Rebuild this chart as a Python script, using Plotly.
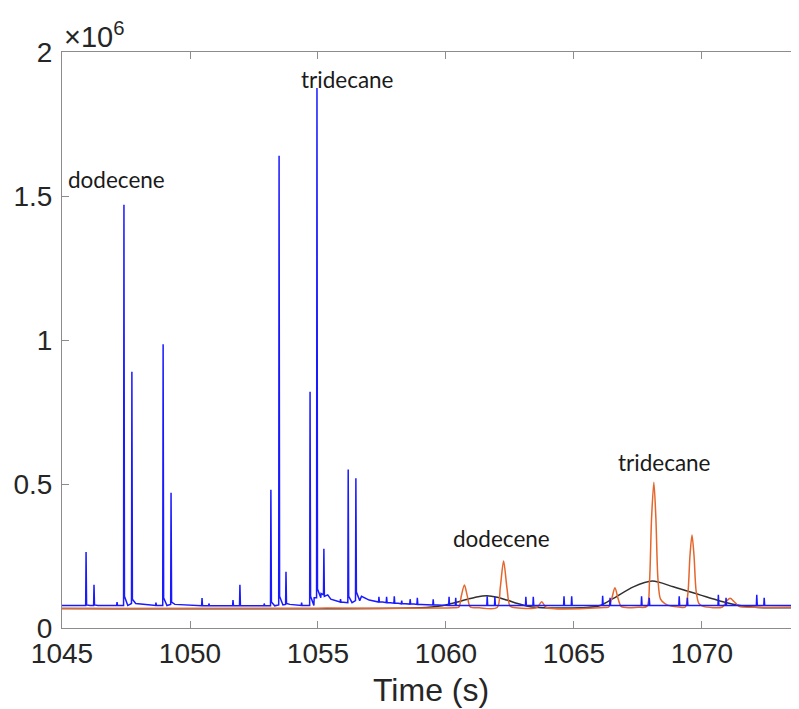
import plotly.graph_objects as go

# ---- data (intensity in units of 1e6) ----
# blue trace: sharp spikes  (time, apex, local baseline, level just after apex)
blue_spike_t = [1045.94, 1046.25, 1047.15, 1047.42, 1047.73, 1048.67, 1048.95, 1049.26,
                1050.47, 1050.74, 1051.68, 1051.95, 1052.90, 1053.16, 1053.48, 1053.75,
                1054.36, 1054.69, 1054.96, 1055.23, 1055.88, 1056.18, 1056.48,
                1057.38, 1057.68, 1057.98, 1058.27, 1058.60, 1058.88, 1059.50,
                1060.12, 1060.38, 1061.61, 1061.91, 1063.12, 1063.41, 1064.61, 1064.91,
                1066.12, 1066.41, 1067.64, 1067.94, 1069.11, 1069.43, 1070.64, 1070.94,
                1072.14, 1072.43, 1073.67]
blue_spike_h = [0.264, 0.150, 0.090, 1.470, 0.890, 0.088, 0.985, 0.470,
                0.104, 0.085, 0.097, 0.150, 0.085, 0.480, 1.640, 0.195,
                0.088, 0.820, 1.875, 0.275, 0.100, 0.550, 0.520,
                0.108, 0.108, 0.110, 0.095, 0.100, 0.105, 0.100,
                0.108, 0.105, 0.110, 0.108, 0.108, 0.108, 0.110, 0.110,
                0.112, 0.105, 0.110, 0.105, 0.110, 0.105, 0.115, 0.105,
                0.115, 0.105, 0.110]
blue_spike_base = [0.078, 0.078, 0.078, 0.078, 0.085, 0.078, 0.078, 0.082,
                   0.077, 0.077, 0.077, 0.077, 0.077, 0.077, 0.080, 0.082,
                   0.078, 0.078, 0.105, 0.115, 0.090, 0.088, 0.095,
                   0.090, 0.088, 0.086, 0.084, 0.083, 0.082, 0.080,
                   0.078, 0.078, 0.078, 0.078, 0.078, 0.078, 0.078, 0.078,
                   0.078, 0.078, 0.078, 0.078, 0.078, 0.078, 0.078, 0.078,
                   0.078, 0.078, 0.078]
blue_spike_tail = [0.080, 0.080, 0.078, 0.110, 0.100, 0.078, 0.105, 0.090,
                   0.077, 0.077, 0.077, 0.078, 0.077, 0.090, 0.110, 0.085,
                   0.078, 0.110, 0.135, 0.110, 0.090, 0.110, 0.125,
                   0.090, 0.088, 0.086, 0.084, 0.083, 0.082, 0.080,
                   0.078, 0.078, 0.078, 0.078, 0.078, 0.078, 0.078, 0.078,
                   0.078, 0.078, 0.078, 0.078, 0.078, 0.078, 0.078, 0.078,
                   0.078, 0.078, 0.078]
blue_base_t = [1045.0, 1054.85, 1055.12, 1055.50, 1056.00, 1056.70, 1057.00, 1058.20, 1059.80, 1073.8]
blue_base_y = [0.078, 0.105, 0.120, 0.100, 0.090, 0.110, 0.097, 0.085, 0.080, 0.078]

# orange trace
orange_t = [1045.0, 1055.0, 1060.30, 1060.50, 1060.60, 1060.72, 1060.84, 1060.95, 1061.3,
            1062.00, 1062.12, 1062.25, 1062.38, 1062.50, 1062.65,
            1063.55, 1063.74, 1063.92, 1066.20,
            1066.35, 1066.47, 1066.60, 1066.73, 1066.85, 1067.5,
            1067.85, 1067.95, 1068.03, 1068.12, 1068.20, 1068.28, 1068.38, 1068.55, 1068.80, 1069.10,
            1069.35, 1069.45, 1069.53, 1069.61, 1069.69, 1069.77, 1069.88, 1070.05,
            1070.80, 1070.95, 1071.10, 1071.25, 1071.45, 1072.0, 1073.8]
orange_y = [0.068, 0.069, 0.070, 0.072, 0.112, 0.149, 0.108, 0.073, 0.070,
            0.071, 0.140, 0.233, 0.140, 0.076, 0.071,
            0.071, 0.091, 0.071, 0.071,
            0.072, 0.100, 0.140, 0.100, 0.074, 0.072,
            0.075, 0.160, 0.380, 0.506, 0.380, 0.170, 0.100, 0.085, 0.076, 0.073,
            0.073, 0.120, 0.250, 0.323, 0.250, 0.130, 0.085, 0.075,
            0.073, 0.092, 0.103, 0.092, 0.075, 0.072, 0.072]

# black trace
black_t = [1045.0, 1059.0, 1059.77, 1060.3, 1060.8, 1061.2, 1061.6, 1062.0, 1062.38, 1062.8,
           1063.15, 1063.6, 1065.5, 1066.02, 1066.54, 1067.32, 1068.06, 1068.88, 1069.92,
           1070.7, 1071.6, 1072.2, 1073.8]
black_y = [0.068, 0.070, 0.076, 0.087, 0.099, 0.108, 0.112, 0.107, 0.097, 0.085,
           0.076, 0.071, 0.071, 0.078, 0.103, 0.143, 0.163, 0.143, 0.115,
           0.094, 0.076, 0.071, 0.070]

x_ticks = [1045, 1050, 1055, 1060, 1065, 1070]
y_ticks = [0, 0.5, 1, 1.5, 2]
y_ticktext = ["0", "0.5", "1", "1.5", "2"]

labels = ["dodecene", "tridecane", "dodecene", "tridecane"]
label_x = [1047.11, 1056.17, 1062.15, 1068.55]
label_y = [1.556, 1.906, 0.312, 0.576]

# ---- build blue vertex list from spikes + baseline knots ----
pts = list(zip(blue_base_t, blue_base_y))
for t, h, b, tl in zip(blue_spike_t, blue_spike_h, blue_spike_base, blue_spike_tail):
    pts += [(t - 0.015, b), (t, h), (t + 0.02, tl), (t + 0.15, b)]
pts.sort(key=lambda p: p[0])
blue_x = [p[0] for p in pts]
blue_y = [p[1] for p in pts]

fig = go.Figure()
fig.add_trace(go.Scatter(x=black_t, y=black_y, mode="lines",
                         line=dict(color="#303030", width=1.5, shape="spline", smoothing=0.8)))
fig.add_trace(go.Scatter(x=orange_t, y=orange_y, mode="lines",
                         line=dict(color="#e5662c", width=1.5, shape="spline", smoothing=0.8)))
fig.add_trace(go.Scatter(x=blue_x, y=blue_y, mode="lines",
                         line=dict(color="#1a1aff", width=1.5)))

for txt, lx, ly in zip(labels, label_x, label_y):
    fig.add_annotation(x=lx, y=ly, text=txt, showarrow=False, xanchor="center", yanchor="middle",
                       font=dict(family="Lato", size=22.5, color="#1a1a1a"))

fig.add_annotation(xref="paper", yref="paper", x=0.0, y=1.0, yshift=17, xanchor="left", yanchor="middle",
                   text="×10<sup>6</sup>", showarrow=False,
                   font=dict(family="Liberation Sans, Arial", size=29, color="#262626"))

# x-axis title placed as a paper annotation
fig.add_annotation(xref="paper", yref="paper", x=0.5, y=0.0, yshift=-62, xanchor="center", yanchor="middle",
                   text="Time (s)", showarrow=False,
                   font=dict(family="Liberation Sans, Arial", size=32, color="#262626"))

axis_common = dict(showgrid=False, zeroline=False, showline=True, linecolor="#8c8c8c", linewidth=1,
                   ticks="inside", tickcolor="#8c8c8c", ticklen=7, tickwidth=1, automargin=False,
                   tickfont=dict(family="Liberation Sans, Arial", size=28, color="#262626"))

# page body has an 8px margin, so the figure is sized/margined to compensate
fig.update_layout(
    width=791, height=701,
    margin=dict(l=54, r=0, t=44, b=81),
    plot_bgcolor="white", paper_bgcolor="white",
    showlegend=False,
    xaxis=dict(range=[1045, 1073.79], tickvals=x_ticks, mirror="ticks", **axis_common),
    yaxis=dict(range=[0, 2], tickvals=y_ticks, ticktext=y_ticktext, ticklabelstandoff=3, **axis_common),
)

fig.write_html("out.html")
